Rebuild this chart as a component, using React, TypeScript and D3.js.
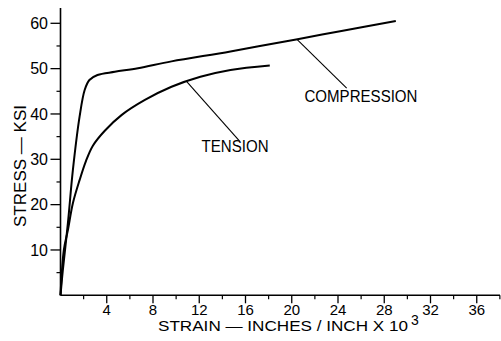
import React from "react";
import * as d3 from "d3";

const compression: [number, number][] = [
  [0, 0], [0.2, 5.5], [0.64, 15.9], [1.07, 27.6], [1.65, 39.4], [2.09, 45.3],
  [2.5, 47.5], [3.2, 48.6], [4.7, 49.3], [6.7, 50.1], [9.6, 51.6], [14.7, 53.8],
  [20.5, 56.5], [24.3, 58.3], [29.0, 60.5],
];
const tension: [number, number][] = [
  [0, 0], [0.29, 10], [0.64, 14.4], [1.07, 20.3], [1.65, 25.4], [2.2, 29.6],
  [2.8, 33.0], [3.83, 36.3], [5.3, 39.8], [7.3, 43.1], [9.6, 46.0], [12.1, 48.2],
  [14.7, 49.7], [18.1, 50.7],
];
const xMajorTicks = [4, 8, 12, 16, 20, 24, 28, 32, 36];
const xMinorTicks = [2, 6, 10, 14, 18, 22, 26, 30, 34, 38];
const yMajorTicks = [10, 20, 30, 40, 50, 60];
const yMinorTicks = [5, 15, 25, 35, 45, 55];

// annotations in data units: [curve point, leader end, label position]
const labels = [
  { text: "TENSION", from: [10.9, 47.2], to: [15.47, 34.05], at: [12.2, 31.7], len: 67 },
  { text: "COMPRESSION", from: [20.43, 56.5], to: [24.75, 45.7], at: [21.1, 42.7], len: 113 },
];

const FONT = "'Liberation Sans', 'DejaVu Sans', sans-serif";

export default function App() {
  const x = d3.scaleLinear().domain([0, 36]).range([60.5, 476.75]);
  const y = d3.scaleLinear().domain([0, 60]).range([295.3, 23.3]);
  const line = d3
    .line<[number, number]>()
    .x((d) => x(d[0]))
    .y((d) => y(d[1]))
    .curve(d3.curveCatmullRom.alpha(0.5));

  const x0 = x(0);
  const y0 = y(0);

  return (
    <svg
      width={501}
      height={341}
      style={{ position: "absolute", left: 0, top: 0, background: "#fff" }}
      fontFamily={FONT}
    >
      <rect width={501} height={341} fill="#fff" />
      {/* axes */}
      <line x1={x0} x2={x0} y1={8} y2={y0} stroke="#000" strokeWidth={1.6} />
      <line x1={x0} x2={500} y1={y0} y2={y0} stroke="#000" strokeWidth={1.6} />
      {yMajorTicks.map((t) => (
        <g key={"ym" + t}>
          <line x1={x0 - 10} x2={x0} y1={y(t)} y2={y(t)} stroke="#000" strokeWidth={1.3} />
          <text x={48} y={y(t)} dy="0.36em" textAnchor="end" fontSize={16}>
            {t}
          </text>
        </g>
      ))}
      {yMinorTicks.map((t) => (
        <line key={"yn" + t} x1={x0 - 4} x2={x0} y1={y(t)} y2={y(t)} stroke="#000" strokeWidth={1.2} />
      ))}
      {xMajorTicks.map((t) => (
        <g key={"xm" + t}>
          <line x1={x(t)} x2={x(t)} y1={y0} y2={y0 + 8} stroke="#000" strokeWidth={1.3} />
          <text x={x(t)} y={315} textAnchor="middle" fontSize={15}>
            {t}
          </text>
        </g>
      ))}
      {xMinorTicks.map((t) => (
        <line key={"xn" + t} x1={x(t)} x2={x(t)} y1={y0} y2={y0 + 4} stroke="#000" strokeWidth={1.2} />
      ))}
      {/* axis titles */}
      <text x={158} y={331} fontSize={14} textLength={250} lengthAdjust="spacingAndGlyphs">
        STRAIN — INCHES / INCH X 10
      </text>
      <text x={411} y={325} fontSize={14}>
        3
      </text>
      <text
        transform="translate(26,166) rotate(-90)"
        textAnchor="middle"
        fontSize={16}
        textLength={122}
        lengthAdjust="spacingAndGlyphs"
      >
        STRESS — KSI
      </text>
      {/* curves */}
      <path d={line(compression) ?? ""} fill="none" stroke="#000" strokeWidth={2} />
      <path d={line(tension) ?? ""} fill="none" stroke="#000" strokeWidth={2} />
      {/* labels */}
      {labels.map((l) => (
        <g key={l.text}>
          <line
            x1={x(l.from[0])}
            y1={y(l.from[1])}
            x2={x(l.to[0])}
            y2={y(l.to[1])}
            stroke="#000"
            strokeWidth={1.1}
          />
          <text x={x(l.at[0])} y={y(l.at[1])} fontSize={16} textLength={l.len} lengthAdjust="spacingAndGlyphs">
            {l.text}
          </text>
        </g>
      ))}
    </svg>
  );
}
